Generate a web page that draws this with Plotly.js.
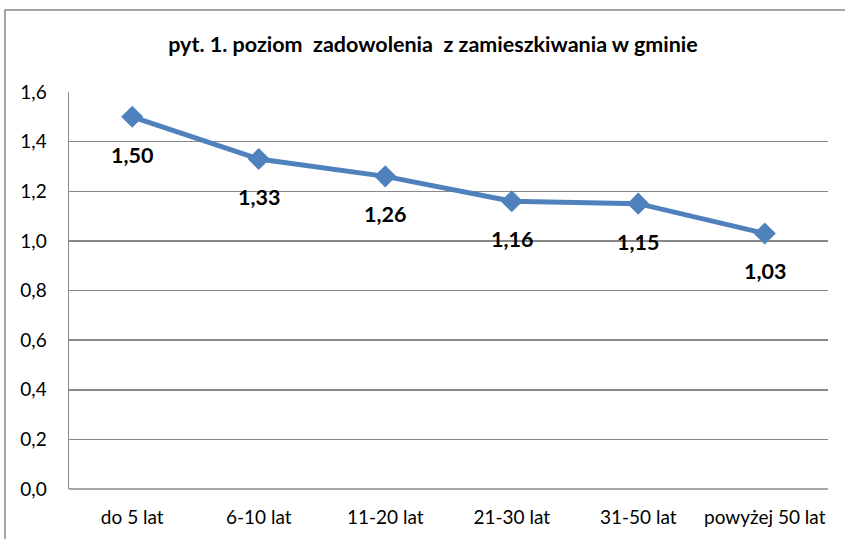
<!DOCTYPE html>
<html><head><meta charset="utf-8">
<script src="https://cdn.plot.ly/plotly-3.0.1.min.js"></script>
<style>html,body{margin:0;padding:0;background:#fff}#c{width:845px;height:539px}</style>
</head><body><div id="c"></div>
<script>
const categories = ["do 5 lat","6-10 lat","11-20 lat","21-30 lat","31-50 lat","powyżej 50 lat"];
const values = [1.50, 1.33, 1.26, 1.16, 1.15, 1.03];
const valueLabels = ["1,50","1,33","1,26","1,16","1,15","1,03"];
const yTicks = [0,0.2,0.4,0.6,0.8,1.0,1.2,1.4,1.6];

const font = "Lato, 'Open Sans', sans-serif";
const idx = categories.map((c,i)=>i);
const trace = {
  x: idx, y: values, type:'scatter', mode:'lines+markers',
  line:{color:'#4F81BD', width:5},
  marker:{symbol:'diamond', size:17, color:'#4F81BD'},
  hoverinfo:'none', cliponaxis:false
};
const annotations = values.map((v,i)=>({
  x:i, y:v, xref:'x', yref:'y', text:'<b>'+valueLabels[i]+'</b>', showarrow:false,
  yshift:-38, font:{family:font, size:21.5, color:'#000'}
}));
const layout = {
  width:845, height:539,
  margin:{l:69, r:17, t:92, b:50},
  paper_bgcolor:'#fff', plot_bgcolor:'#fff',
  showlegend:false,
  title:{text:'<b>pyt. 1. poziom  zadowolenia  z zamieszkiwania w gminie</b>', x:433/845, xref:'container', xanchor:'center', y:1-44/539, yref:'container', yanchor:'middle', font:{family:font, size:21.5, color:'#000'}},
  separators:', ',
  xaxis:{range:[-0.5,5.5], tickmode:'array', tickvals:idx, ticktext:categories, showgrid:false, zeroline:false,
    showline:false, ticks:'', ticklabelstandoff:15, tickfont:{family:font, size:19, color:'#000'}, fixedrange:true},
  yaxis:{range:[0,1.6], tickmode:'array', tickvals:yTicks, tickformat:'.1f', showgrid:true, gridcolor:'#888', gridwidth:1.5,
    zeroline:false, showline:true, linecolor:'#888', linewidth:1.5, ticks:'', ticklabelstandoff:17,
    tickfont:{family:font, size:19, color:'#000'}, fixedrange:true},
  shapes:[
    {type:'line', xref:'paper', yref:'paper', x0:0, x1:1, y0:0, y1:0, line:{color:'#888', width:1.5}},
    {type:'rect', xref:'paper', yref:'paper', x0:(5-69)/759, x1:(860-69)/759, y0:-(560-489)/397, y1:1+(92-10)/397, line:{color:'#868686', width:1.5}, layer:'below'}
  ],
  annotations: annotations
};
Plotly.newPlot('c',[trace],layout,{displayModeBar:false, staticPlot:true});
</script></body></html>
